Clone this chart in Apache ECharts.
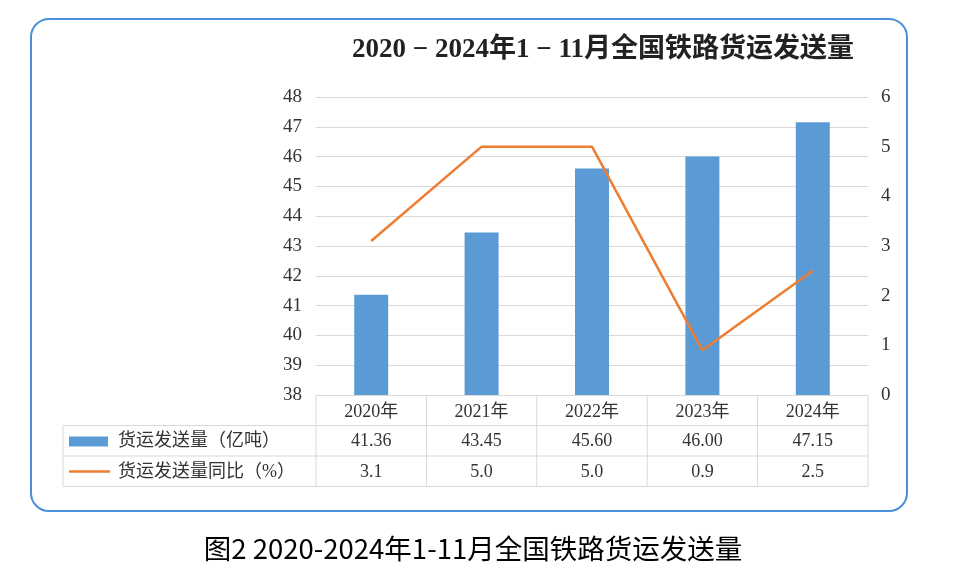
<!DOCTYPE html>
<html>
<head>
<meta charset="utf-8">
<script src="https://cdn.jsdelivr.net/npm/echarts@6/dist/echarts.min.js"></script>
<style>
  html, body { margin: 0; padding: 0; background: #fff; }
  #main { width: 961px; height: 579px; }
</style>
</head>
<body>
<div id="main"></div>
<script>
// data
var years = ['2020年', '2021年', '2022年', '2023年', '2024年'];
var volume = [41.36, 43.45, 45.60, 46.00, 47.15];   // 亿吨
var yoy = [3.1, 5.0, 5.0, 0.9, 2.5];                // %
var volName = '货运发送量（亿吨）';
var yoyName = '货运发送量同比（%）';

var chart = echarts.init(document.getElementById('main'));

// plot area
var gL = 316, gR = 868, gT = 97, gB = 395;
var rowH = 30.5;
var tableLeft = 63;
var serif = '"Liberation Serif", "Noto Sans CJK SC", serif';
var colW = (gR - gL) / years.length;

var graphics = [];
// rounded border
graphics.push({
  type: 'rect', z: -1,
  shape: { x: 31, y: 19, width: 876, height: 492, r: 18 },
  style: { fill: 'none', stroke: '#4a90d9', lineWidth: 2 }
});
// title
graphics.push({
  type: 'text', x: 603, y: 50,
  style: {
    text: '2020 − 2024年1 − 11月全国铁路货运发送量',
    font: 'bold 27px ' + serif, fill: '#222',
    textAlign: 'center', textVerticalAlign: 'middle'
  }
});
// caption
graphics.push({
  type: 'text', x: 473, y: 549,
  style: {
    text: '图2 2020-2024年1-11月全国铁路货运发送量',
    font: '27.5px "Noto Sans CJK SC", sans-serif', fill: '#000',
    textAlign: 'center', textVerticalAlign: 'middle'
  }
});

// table lines
var lineStyle = { stroke: '#d9d9d9', lineWidth: 1 };
var yTop = gB, y1 = gB + rowH, y2 = gB + 2 * rowH, y3 = gB + 3 * rowH;
graphics.push({ type: 'line', shape: { x1: tableLeft, y1: y1, x2: gR, y2: y1 }, style: lineStyle });
graphics.push({ type: 'line', shape: { x1: tableLeft, y1: y2, x2: gR, y2: y2 }, style: lineStyle });
graphics.push({ type: 'line', shape: { x1: tableLeft, y1: y3, x2: gR, y2: y3 }, style: lineStyle });
graphics.push({ type: 'line', shape: { x1: tableLeft, y1: y1, x2: tableLeft, y2: y3 }, style: lineStyle });
for (var i = 0; i <= years.length; i++) {
  var x = gL + i * colW;
  graphics.push({ type: 'line', shape: { x1: x, y1: yTop, x2: x, y2: y3 }, style: lineStyle });
}
// legend keys
graphics.push({ type: 'rect', shape: { x: 69, y: y1 + 11, width: 39, height: 10 }, style: { fill: '#5b9bd5' } });
graphics.push({ type: 'line', shape: { x1: 69, y1: y2 + 15.5, x2: 110, y2: y2 + 15.5 }, style: { stroke: '#ed7d31', lineWidth: 2.5 } });
graphics.push({ type: 'text', x: 118, y: y1 + rowH / 2 + 1, style: { text: volName, font: '18px ' + serif, fill: '#333', textVerticalAlign: 'middle' } });
graphics.push({ type: 'text', x: 118, y: y2 + rowH / 2 + 1, style: { text: yoyName, font: '18px ' + serif, fill: '#333', textVerticalAlign: 'middle' } });
// table values
for (var j = 0; j < years.length; j++) {
  var cx = gL + (j + 0.5) * colW;
  graphics.push({ type: 'text', x: cx, y: y1 + rowH / 2 + 1, style: { text: volume[j].toFixed(2), font: '18px ' + serif, fill: '#333', textAlign: 'center', textVerticalAlign: 'middle' } });
  graphics.push({ type: 'text', x: cx, y: y2 + rowH / 2 + 1, style: { text: yoy[j].toFixed(1), font: '18px ' + serif, fill: '#333', textAlign: 'center', textVerticalAlign: 'middle' } });
}

var option = {
  animation: false,
  backgroundColor: '#fff',
  grid: { left: gL, right: 961 - gR, top: gT, bottom: 579 - gB },
  xAxis: {
    type: 'category',
    data: years,
    axisLine: { show: true, lineStyle: { color: '#d9d9d9' } },
    axisTick: { show: false },
    axisLabel: { color: '#333', fontSize: 18, fontFamily: serif, margin: 8 }
  },
  yAxis: [{
    type: 'value', min: 38, max: 48, interval: 1,
    axisLine: { show: false }, axisTick: { show: false },
    axisLabel: { color: '#333', fontSize: 19, fontFamily: serif, margin: 14 },
    splitLine: { lineStyle: { color: '#d9d9d9' } }
  }, {
    type: 'value', min: 0, max: 6, interval: 1,
    axisLine: { show: false }, axisTick: { show: false },
    axisLabel: { color: '#333', fontSize: 19, fontFamily: serif, margin: 13 },
    splitLine: { show: false }
  }],
  series: [{
    name: volName,
    type: 'bar',
    data: volume,
    barWidth: 34,
    itemStyle: { color: '#5b9bd5' }
  }, {
    name: yoyName,
    type: 'line',
    yAxisIndex: 1,
    data: yoy,
    showSymbol: false,
    lineStyle: { color: '#ed7d31', width: 2.5 },
    itemStyle: { color: '#ed7d31' }
  }],
  graphic: graphics
};

chart.setOption(option);
</script>
</body>
</html>
